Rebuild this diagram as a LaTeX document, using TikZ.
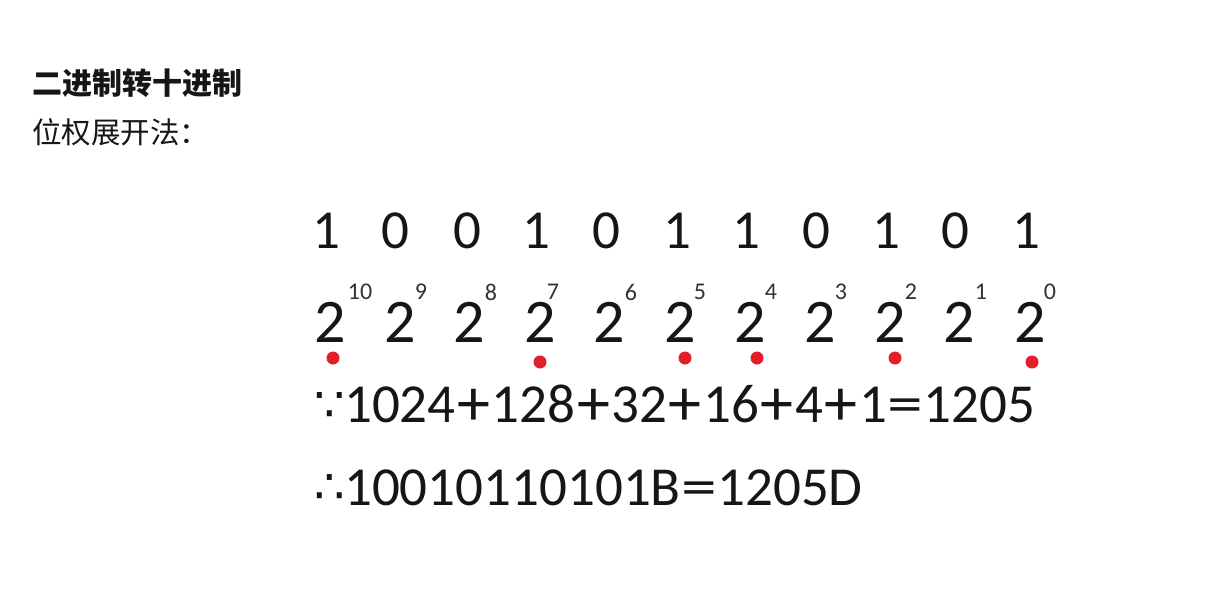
\documentclass[tikz,border=0pt]{standalone}
\usepackage{fontspec}
\usepackage{graphicx}
\setmainfont{Carlito}
\newfontfamily\cjk{Noto Sans CJK SC}
\newfontfamily\dv{DejaVu Sans}
\definecolor{ink}{HTML}{161616}
\definecolor{ink2}{HTML}{333333}
\definecolor{mark}{HTML}{E3202A}
\newcommand\pls{\kern1.6pt\raisebox{-3.5pt}{\scalebox{1.2}{+}}\kern1.6pt}
\newcommand\eqs{\kern0.5pt\scalebox{1.3}[1.0]{=}\kern0.5pt}
\begin{document}
\begin{tikzpicture}[x=1pt,y=-1pt,
  title/.style={inner sep=0pt, anchor=west, text=ink, font=\cjk\bfseries\fontsize{30}{33}\selectfont},
  sub/.style={inner sep=0pt, anchor=west, text=ink, font=\cjk\fontsize{29.5}{32}\selectfont},
  bit/.style={inner sep=0pt, font=\fontsize{55}{60}\selectfont, text=ink},
  base2/.style={inner sep=0pt, font=\fontsize{62}{66}\selectfont, text=ink},
  expo/.style={inner sep=0pt, font=\fontsize{24}{26}\selectfont, text=ink2},
  dotmark/.style={circle, fill=mark, inner sep=0pt, minimum size=13pt},
  eq/.style={inner sep=0pt, anchor=base west, font=\fontsize{55}{60}\selectfont, text=ink},
  sym/.style={inner sep=0pt, font=\dv\fontsize{48}{52}\selectfont, text=ink},
  ]
\useasboundingbox (0,0) rectangle (1228,598);
\fill[white] (0,0) rectangle (1228,598);
\node[title] (t1) at (32,83.5) {二进制转十进制};
\node[sub] (t2) at (32,132) {位权展开法：};
\foreach \x/\d [count=\i] in {326/1,395/0,467/0,536/1,606/0,677/1,746/1,816/0,886/1,955/0,1026/1}
  \node[bit] (b\i) at (\x,230.5) {\d};
\foreach \x [count=\i] in {330,400,469,540,609,680,750,820,890,959,1030}
  \node[base2] (p\i) at (\x,322.5) {2};
\foreach \x/\e [count=\i] in {360/10,421/9,491/8,553/7,631/6,700/5,771/4,841/3,911/2,981/1,1050/0}
  \node[expo] (e\i) at (\x,292) {\e};
\foreach \x/\y [count=\i] in {333/358,540/362,685/358,757/358,895/358,1032/362}
  \node[dotmark] (m\i) at (\x,\y) {};
\node[sym] (because) at (330,407) {∵};
\node[eq] (sum) at (344,422) {1024\pls128\pls32\pls16\pls4\pls1\eqs1205};
\node[sym] (therefore) at (330,488.5) {∴};
\node[eq] (res) at (344,505) {10010110101B\eqs1205D};
\end{tikzpicture}
\end{document}
